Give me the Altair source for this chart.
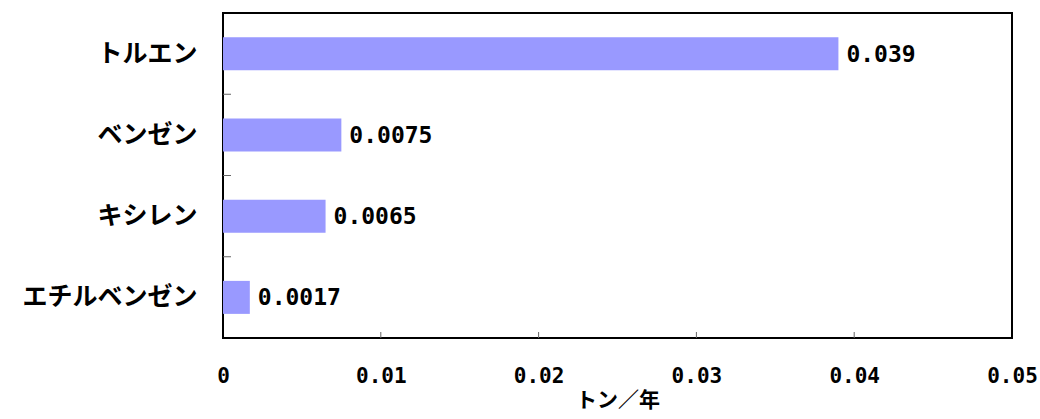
import altair as alt
import pandas as pd

# Annual emissions per substance (tonnes / year)
substances = ["トルエン", "ベンゼン", "キシレン", "エチルベンゼン"]
amounts = [0.039, 0.0075, 0.0065, 0.0017]
x_ticks = [0.0, 0.01, 0.02, 0.03, 0.04, 0.05]
inner_ticks = [0.01, 0.02, 0.03, 0.04]

JP_FONT = "Noto Sans CJK JP"
NUM_FONT = "DejaVu Sans Mono"
BAR_COLOR = "#9999FF"

df = pd.DataFrame({
    "substance": substances,
    "amount": amounts,
    "label": [str(v) for v in amounts],
})
tick_df = pd.DataFrame({"t": inner_ticks})
sep_df = pd.DataFrame({"substance": substances[1:]})

x_scale = alt.Scale(domain=[0, 0.05], nice=False, zero=True)
y_scale = alt.Scale(paddingInner=0, paddingOuter=0)

x_enc = alt.X(
    "amount:Q",
    scale=x_scale,
    title="トン／年",
    axis=alt.Axis(
        values=x_ticks,
        format="~g",
        grid=False,
        domain=False,
        ticks=False,
        labelFont=NUM_FONT,
        labelFontWeight="bold",
        labelFontSize=21,
        labelColor="black",
        labelPadding=27,
        labelFlush=False,
        labelOverlap=False,
        labelBound=False,
        titleFont=JP_FONT,
        titleFontWeight="bold",
        titleFontSize=21,
        titleColor="black",
        titlePadding=3,
    ),
)
y_enc = alt.Y(
    "substance:N",
    sort=substances,
    scale=y_scale,
    title=None,
    axis=alt.Axis(
        grid=False,
        domain=False,
        ticks=False,
        labelFont=JP_FONT,
        labelFontWeight="bold",
        labelFontSize=25,
        labelColor="black",
        labelPadding=26,
    ),
)

bars = alt.Chart(df).mark_bar(size=33, color=BAR_COLOR).encode(x=x_enc, y=y_enc)

labels = alt.Chart(df).mark_text(
    align="left", baseline="middle", dx=8, dy=1,
    font=NUM_FONT, fontWeight="bold", fontSize=23, color="black",
).encode(
    x=alt.X("amount:Q", scale=x_scale),
    y=alt.Y("substance:N", sort=substances, scale=y_scale),
    text="label:N",
)

# short inward tick marks on the bottom axis
x_tick_marks = alt.Chart(tick_df).mark_rule(color="#666666", strokeWidth=1).encode(
    x=alt.X("t:Q", scale=x_scale),
    y=alt.value(325),
    y2=alt.value(319),
)

# inward tick marks between categories on the left axis
y_tick_marks = alt.Chart(sep_df).mark_rule(color="#666666", strokeWidth=1).encode(
    y=alt.Y("substance:N", sort=substances, scale=y_scale, bandPosition=0),
    x=alt.value(0),
    x2=alt.value(8),
)

chart = (
    alt.layer(bars, labels, x_tick_marks, y_tick_marks)
    .properties(
        width=789,
        height=325,
        autosize=alt.AutoSizeParams(type="none"),
        padding={"left": 223, "top": 13, "right": 28, "bottom": 81},
        background="white",
    )
    .configure_view(stroke="black", strokeWidth=2)
)

chart.save("out.html", embed_options={"renderer": "svg", "actions": False})
